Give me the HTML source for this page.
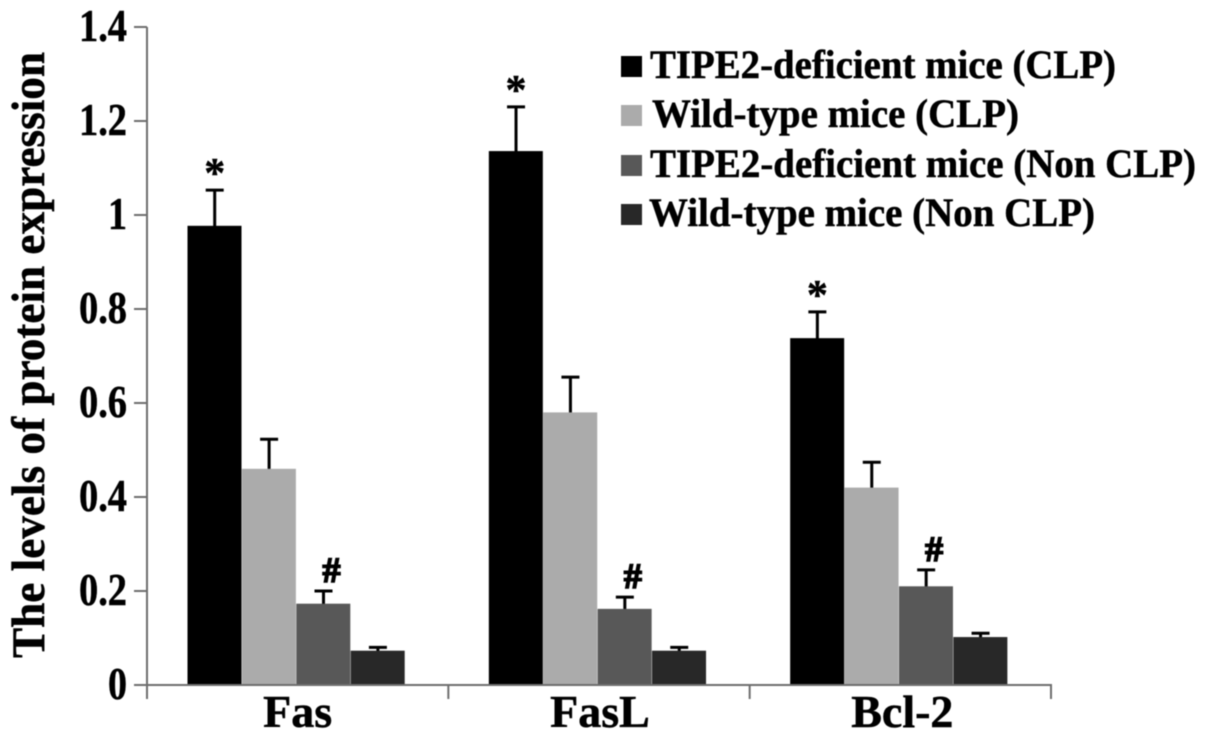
<!DOCTYPE html>
<html>
<head>
<meta charset="utf-8">
<style>
html,body{margin:0;padding:0;background:#fff;width:1205px;height:742px;overflow:hidden}
svg{display:block;filter:blur(0.4px)}
text{font-family:"Liberation Serif",serif;font-weight:bold;fill:#000;stroke:#000;stroke-width:0.5px}
</style>
</head>
<body>
<svg id="chart" width="1205" height="742" viewBox="0 0 1205 742" xmlns="http://www.w3.org/2000/svg"></svg>
<script>
const categories = ['Fas', 'FasL', 'Bcl-2'];
const seriesNames = ['TIPE2-deficient mice (CLP)', 'Wild-type mice (CLP)', 'TIPE2-deficient mice (Non CLP)', 'Wild-type mice (Non CLP)'];
const tipe2Clp = [0.977, 1.136, 0.738];
const wildClp = [0.46, 0.58, 0.42];
const tipe2Non = [0.173, 0.162, 0.21];
const wildNon = [0.073, 0.073, 0.102];
const tipe2ClpTop = [1.053, 1.23, 0.794];
const wildClpTop = [0.523, 0.655, 0.474];
const tipe2NonTop = [0.2, 0.187, 0.245];
const wildNonTop = [0.08, 0.08, 0.11];
const tipe2ClpMarks = ['*', '*', '*'];
const tipe2NonMarks = ['#', '#', '#'];
const yTickValues = [0, 0.2, 0.4, 0.6, 0.8, 1, 1.2, 1.4];
const yTickLabels = ['0', '0.2', '0.4', '0.6', '0.8', '1', '1.2', '1.4'];

const svg = document.getElementById('chart');
const NS = 'http://www.w3.org/2000/svg';
const colors = ['#000000', '#ababab', '#585858', '#282828'];
const allValues = [tipe2Clp, wildClp, tipe2Non, wildNon];
const allTops = [tipe2ClpTop, wildClpTop, tipe2NonTop, wildNonTop];
const X0 = 147, X1 = 1051, Y0 = 685, PX_PER_UNIT = 470;
const band = (X1 - X0) / categories.length;
const barW = 54.4;
function yPos(v) { return Y0 - v * PX_PER_UNIT; }
function barX(c, s) { return X0 + band * c + 40.5 + s * barW; }
function el(tag, attrs, parent) {
  const e = document.createElementNS(NS, tag);
  for (const k in attrs) e.setAttribute(k, attrs[k]);
  (parent || svg).appendChild(e);
  return e;
}
function txt(str, attrs) {
  const t = el('text', attrs);
  t.textContent = str;
  return t;
}

// bars and error bars
categories.forEach(function (cat, c) {
  allValues.forEach(function (vals, s) {
    const x = barX(c, s);
    const top = yPos(allTops[s][c]);
    const v = yPos(vals[c]);
    const stem = el('line', { x1: x + barW / 2, x2: x + barW / 2, y1: top, y2: v + 2, stroke: '#000', 'stroke-width': 3 });
    
    
    const cap = el('line', { x1: x + barW / 2 - 9, x2: x + barW / 2 + 9, y1: top, y2: top, stroke: '#000', 'stroke-width': 3 });
    
    
    const bar = el('rect', { x: x, y: v, width: barW - 0.4, height: Y0 - v, fill: colors[s] });
    
    
  });
  const star = txt(tipe2ClpMarks[c], { x: barX(c, 0) + barW / 2, y: yPos(tipe2ClpTop[c]) - 3, 'font-size': 42, 'text-anchor': 'middle' });
  
  
  const hash = txt(tipe2NonMarks[c], { x: barX(c, 2) + barW / 2 + 8, y: yPos(tipe2NonTop[c]) - 9, 'font-size': 36, 'text-anchor': 'middle', style: 'stroke-width:1.6px' });
  
  
  const lab = txt(cat, { x: X0 + band * c + band / 2 + c, y: 727, 'font-size': 46, 'text-anchor': 'middle' });
  
  
});

// axes
const yAxis = el('line', { x1: X0, x2: X0, y1: yPos(1.4), y2: 699, stroke: '#6e6e6e', 'stroke-width': 2 });


const xAxis = el('line', { x1: 134, x2: X1 + 1, y1: Y0, y2: Y0, stroke: '#6e6e6e', 'stroke-width': 2 });


categories.forEach(function (cat, c) {
  const tx = X0 + band * (c + 1);
  const t = el('line', { x1: tx, x2: tx, y1: Y0, y2: 699, stroke: '#6e6e6e', 'stroke-width': 2 });
  
  
});
yTickValues.forEach(function (v, i) {
  const y = yPos(v);
  const t = el('line', { x1: 134, x2: X0, y1: y, y2: y, stroke: '#6e6e6e', 'stroke-width': 2 });
  
  
  const lab = txt(yTickLabels[i], { x: 127, y: y + 14, 'font-size': 45, 'text-anchor': 'end', textLength: yTickLabels[i].length > 1 ? 48 : 19, lengthAdjust: 'spacingAndGlyphs' });
  
  
});
</script>
<script>
// y-axis title and legend
const yTitle = txt('The levels of protein expression', { x: 0, y: 0, 'font-size': 47, transform: 'translate(44,658) rotate(-90)', textLength: 606, lengthAdjust: 'spacingAndGlyphs' });


const legendRowY = [78, 127, 177, 226];
const legendTextX = [650, 652, 650, 649];
const legendTextW = [466, 367, 546, 446];
seriesNames.forEach(function (name, s) {
  const sw = el('rect', { x: 621, y: legendRowY[s] - 22, width: 21, height: 21, fill: colors[s] });
  
  
  const t = txt(name, { x: legendTextX[s], y: legendRowY[s], 'font-size': 40, textLength: legendTextW[s], lengthAdjust: 'spacingAndGlyphs' });
  
  
});
</script>
</body>
</html>
